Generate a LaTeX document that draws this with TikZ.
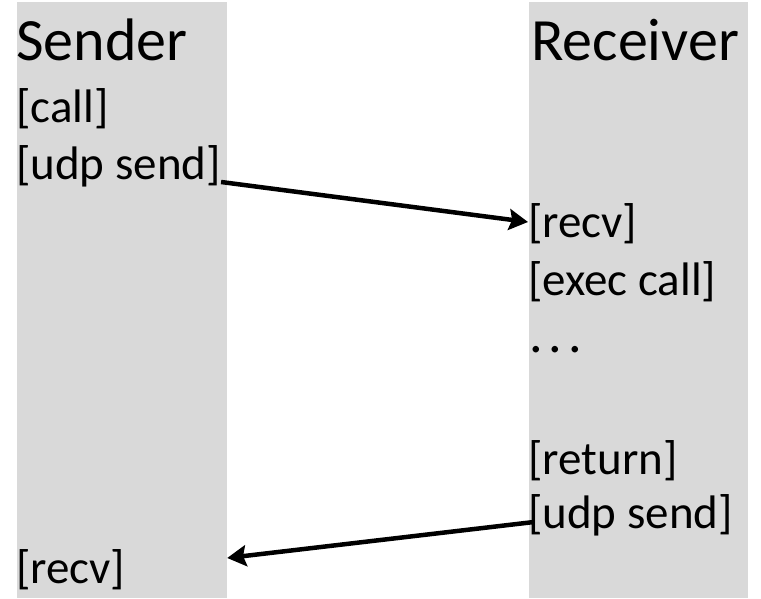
\documentclass[tikz,border=0pt]{standalone}
\usepackage{fontspec}
\setmainfont{Carlito}
\usetikzlibrary{arrows.meta}
\definecolor{lanegrey}{HTML}{D9D9D9}

\begin{document}
\begin{tikzpicture}[x=1pt,y=-1pt]

        \useasboundingbox (0,0) rectangle (761,599);

        \begin{scope}[every node/.style={fill=lanegrey, inner sep=0, minimum height=596pt}]
          \node[minimum width=210pt] (l1) at (122,300)   {};
          \node[minimum width=219pt] (l2) at (638.5,300) {};
        \end{scope}

        \begin{scope}[every node/.style={anchor=base west, inner sep=0, font=\fontsize{47}{47}\selectfont}]
          \node[font=\fontsize{60}{60}\selectfont] (s0) at (16,61)  {Sender};
          \node (s1) at (16,123) {[call]};
          \node (s2) at (16,180) {[udp send]};
          \node (s3) at (16,583) {[recv]};
          \node[font=\fontsize{60}{60}\selectfont] (r0) at (531,61) {Receiver};
          \node (r1) at (528,237) {[recv]};
          \node (r2) at (528,295) {[exec call]};
          \node[font=\fontsize{54}{54}\selectfont] (r3) at (529,352) {.\kern6pt.\kern6pt.};
          \node (r4) at (528,474) {[return]};
          \node (r5) at (528,528) {[udp send]};

          \begin{scope}[every edge/.style={draw, line width=4.5pt, -{Stealth[length=19pt,width=21pt,inset=3pt]}}]
            \path ([yshift=-2pt]s2.base east) edge ([yshift=15pt]r1.base west);
            \path ([shift={(6pt,6pt)}]r5.base west) edge ([yshift=25pt]s3.base -| l1.east);
          \end{scope}
        \end{scope}

      \end{tikzpicture}
\end{document}
